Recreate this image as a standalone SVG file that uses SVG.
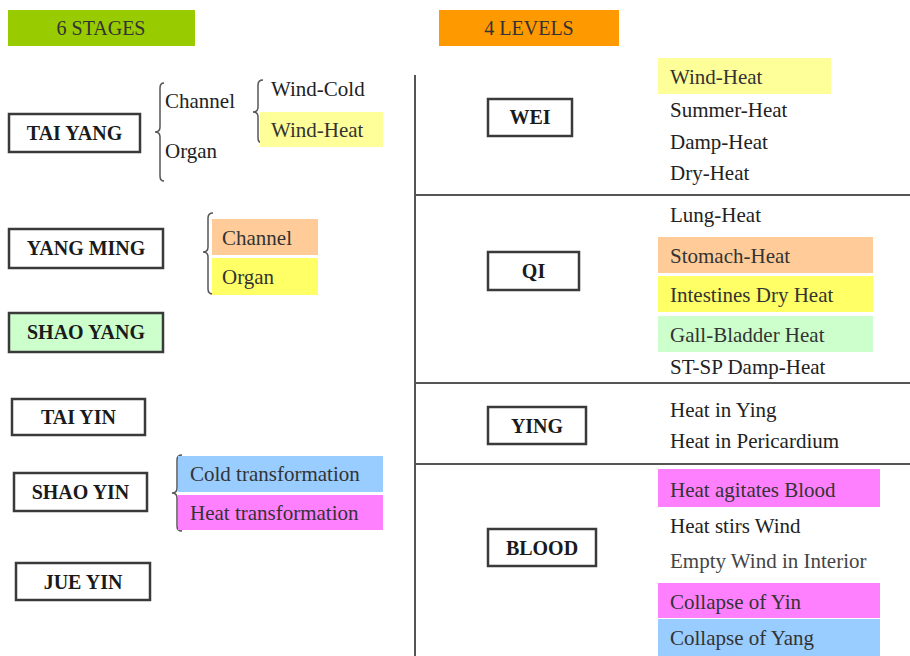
<svg xmlns="http://www.w3.org/2000/svg" width="910" height="656" viewBox="0 0 910 656" font-family="'Liberation Serif', Tinos, 'Times New Roman', serif">
<style>
.t{font-size:21px;fill:#222}
.ct{font-size:21px;fill:#333}
.hd{font-size:20px;text-anchor:middle;fill:#333}
.bl{font-weight:bold;font-size:20px;text-anchor:middle;fill:#1a1a1a}
.bx{fill:#fff;stroke:#3a3a3a;stroke-width:2.5}
.br{fill:none;stroke:#555;stroke-width:1.5}
.ln{stroke:#555;stroke-width:2}
</style>
<rect width="910" height="656" fill="#fff"/>
<g id="hdr-stages"><rect x="8" y="10" width="187" height="36" fill="#99cc00"/><text class="hd" x="101" y="35">6 STAGES</text></g>
<g id="hdr-levels"><rect x="439" y="10" width="180" height="36" fill="#ff9900"/><text class="hd" x="529" y="35">4 LEVELS</text></g>

<g id="connectors">
<path class="br" d="M164,83 Q160,83 160,88 L160,127 Q160,132 155,132 Q160,132 160,137 L160,176 Q160,181 164,181"/>
<path class="br" d="M263,80 Q258,80 258,85 L258,107 Q258,112 253,112 Q258,112 258,117 L258,138 Q258,143 263,143"/>
<path class="br" d="M213,213 Q208,213 208,218 L208,247 Q208,252 203,252 Q208,252 208,257 L208,289 Q208,294 213,294"/>
<path class="br" d="M182,455 Q177,455 177,460 L177,488 Q177,493 172,493 Q177,493 177,498 L177,526 Q177,531 182,531"/>
<line class="ln" x1="415" y1="75" x2="415" y2="656"/>
<line class="ln" x1="415" y1="195" x2="910" y2="195"/>
<line class="ln" x1="415" y1="383" x2="910" y2="383"/>
<line class="ln" x1="415" y1="464" x2="910" y2="464"/>
</g>

<g id="tai-yang"><rect class="bx" x="9" y="114" width="131" height="38"/><text class="bl" x="74.5" y="140">TAI YANG</text></g>
<g id="ty-channel"><text class="t" x="165" y="108">Channel</text></g>
<g id="ty-organ"><text class="t" x="165" y="158">Organ</text></g>
<g id="ty-windcold"><text class="t" x="271" y="96">Wind-Cold</text></g>
<g id="ty-windheat"><rect x="260" y="112" width="123" height="35" fill="#ffff99"/><text class="ct" x="271" y="137">Wind-Heat</text></g>

<g id="yang-ming"><rect class="bx" x="9" y="229" width="154" height="39"/><text class="bl" x="86" y="255">YANG MING</text></g>
<g id="ym-channel"><rect x="212" y="219" width="106" height="36" fill="#ffcc99"/><text class="ct" x="222" y="245">Channel</text></g>
<g id="ym-organ"><rect x="212" y="258" width="106" height="37" fill="#ffff66"/><text class="ct" x="222" y="284">Organ</text></g>

<g id="shao-yang"><rect class="bx" x="9" y="313" width="154" height="39" style="fill:#ccffcc"/><text class="bl" x="86" y="339">SHAO YANG</text></g>

<g id="tai-yin"><rect class="bx" x="12" y="399" width="133" height="36"/><text class="bl" x="78.5" y="424">TAI YIN</text></g>

<g id="shao-yin"><rect class="bx" x="14" y="473" width="133" height="38"/><text class="bl" x="80.5" y="499">SHAO YIN</text></g>
<g id="sy-cold"><rect x="178" y="456" width="205" height="36" fill="#99ccff"/><text class="ct" x="190" y="481">Cold transformation</text></g>
<g id="sy-heat"><rect x="178" y="495" width="205" height="35" fill="#ff80ff"/><text class="ct" x="190" y="520">Heat transformation</text></g>

<g id="jue-yin"><rect class="bx" x="16" y="563" width="134" height="37"/><text class="bl" x="83" y="589">JUE YIN</text></g>

<g id="wei"><rect class="bx" x="488" y="99" width="84" height="37"/><text class="bl" x="530" y="124">WEI</text></g>
<g id="wei-windheat"><rect x="658" y="58" width="173" height="36" fill="#ffff99"/><text class="ct" x="670" y="84">Wind-Heat</text></g>
<g id="wei-summer"><text class="t" x="670" y="117">Summer-Heat</text></g>
<g id="wei-damp"><text class="t" x="670" y="149">Damp-Heat</text></g>
<g id="wei-dry"><text class="t" x="670" y="180">Dry-Heat</text></g>

<g id="qi"><rect class="bx" x="488" y="252" width="91" height="38"/><text class="bl" x="533.5" y="278">QI</text></g>
<g id="qi-lung"><text class="t" x="670" y="222">Lung-Heat</text></g>
<g id="qi-stomach"><rect x="658" y="237" width="215" height="36" fill="#ffcc99"/><text class="ct" x="670" y="263">Stomach-Heat</text></g>
<g id="qi-intestines"><rect x="658" y="276" width="215" height="36" fill="#ffff66"/><text class="ct" x="670" y="302">Intestines Dry Heat</text></g>
<g id="qi-gb"><rect x="658" y="316" width="215" height="36" fill="#ccffcc"/><text class="ct" x="670" y="342">Gall-Bladder Heat</text></g>
<g id="qi-stsp"><text class="t" x="670" y="374">ST-SP Damp-Heat</text></g>

<g id="ying"><rect class="bx" x="488" y="407" width="98" height="37"/><text class="bl" x="537" y="433">YING</text></g>
<g id="ying-1"><text class="t" x="670" y="417">Heat in Ying</text></g>
<g id="ying-2"><text class="t" x="670" y="448">Heat in Pericardium</text></g>

<g id="blood"><rect class="bx" x="488" y="529" width="108" height="37"/><text class="bl" x="542" y="555">BLOOD</text></g>
<g id="bl-agitates"><rect x="658" y="469" width="222" height="38" fill="#ff80ff"/><text class="ct" x="670" y="497">Heat agitates Blood</text></g>
<g id="bl-stirs"><text class="t" x="670" y="533">Heat stirs Wind</text></g>
<g id="bl-empty"><text class="t" x="670" y="568" style="fill:#444">Empty Wind in Interior</text></g>
<g id="bl-yin"><rect x="658" y="583" width="222" height="35" fill="#ff80ff"/><text class="ct" x="670" y="609">Collapse of Yin</text></g>
<g id="bl-yang"><rect x="658" y="619" width="222" height="37" fill="#99ccff"/><text class="ct" x="670" y="645">Collapse of Yang</text></g>
</svg>
